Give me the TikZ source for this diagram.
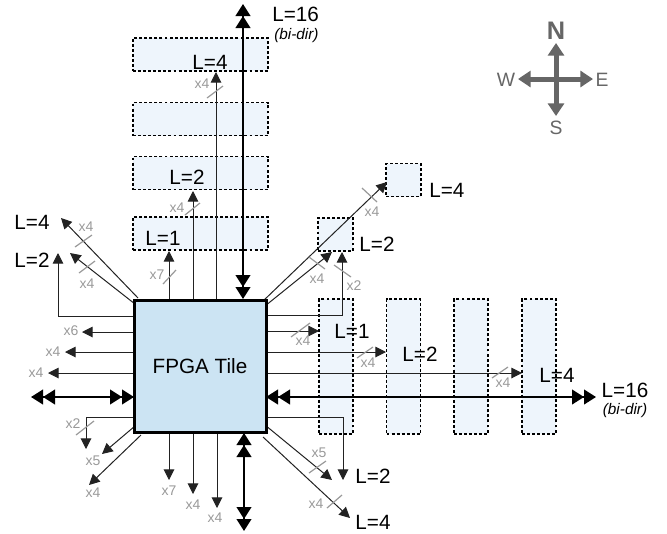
\documentclass[tikz,border=0pt]{standalone}
\usepackage{fontspec}
\setmainfont{Liberation Sans}
\usetikzlibrary{arrows.meta}
\definecolor{tilefill}{HTML}{CCE4F3}
\definecolor{boxfill}{HTML}{EEF5FC}
\definecolor{lbl}{HTML}{999999}
\definecolor{cmp}{HTML}{666666}
\definecolor{ln}{HTML}{222222}
\begin{document}
\begin{tikzpicture}[x=0.75pt,y=-0.75pt,
  tile/.style={draw=black,line width=2.25pt,fill=tilefill,minimum width=99pt,minimum height=99pt,inner sep=0pt,font=\fontsize{15.5}{18}\selectfont},
  dbox/.style={draw=black,line width=0.9pt,dash pattern=on 2.2pt off 1.6pt,fill=boxfill,inner sep=0pt},
  arr/.style={draw=ln,line width=0.75pt,-{Triangle[length=8pt,width=8pt]}},
  dtip/.tip={Triangle[length=9pt,width=11pt,sep=0pt]Triangle[length=9pt,width=11pt,sep=0pt]},
  bidir/.style={draw=black,line width=1.5pt,{dtip}-{dtip}},
  tk/.style={draw=lbl,line width=0.9pt},
  xl/.style={text=lbl,font=\fontsize{10.5}{12}\selectfont,inner sep=0pt},
  ll/.style={font=\fontsize{15.5}{18}\selectfont,inner sep=0pt},
  bd/.style={font=\itshape\fontsize{11.5}{13}\selectfont,inner sep=0pt},
  cmparr/.style={draw=cmp,line width=3.75pt,{Triangle[length=9.5pt,width=12pt]}-{Triangle[length=9.5pt,width=12pt]}},
  cmpl/.style={text=cmp,font=\fontsize{14.5}{16}\selectfont,inner sep=0pt}]
\useasboundingbox (0,0) rectangle (667,533);

% north boxes
\node[dbox,minimum width=101.25pt,minimum height=24.75pt] (nb4) at (200.5,54.5) {};
\node[dbox,minimum width=101.25pt,minimum height=24.75pt] (nb3) at (200.5,119) {};
\node[dbox,minimum width=101.25pt,minimum height=24.75pt] (nb2) at (200.5,173) {};
\node[dbox,minimum width=101.25pt,minimum height=24.75pt] (nb1) at (200.5,233.5) {};
% east boxes
\node[dbox,minimum width=25.5pt,minimum height=101.25pt] (eb1) at (336,366.5) {};
\node[dbox,minimum width=25.5pt,minimum height=101.25pt] (eb2) at (403.5,366.5) {};
\node[dbox,minimum width=25.5pt,minimum height=101.25pt] (eb3) at (471,366.5) {};
\node[dbox,minimum width=25.5pt,minimum height=101.25pt] (eb4) at (539,366.5) {};
% north-east boxes
\node[dbox,minimum width=26.25pt,minimum height=24.75pt] (ne1) at (335.5,234.5) {};
\node[dbox,minimum width=26.25pt,minimum height=24.75pt] (ne2) at (403.5,180) {};

% north connectors
\draw[arr] (169,299) -- (169,251);
\draw[arr] (193,299) -- (193,191);
\draw[arr] (216,299) -- (216,72);
\draw[bidir] (243,299) -- (243,4);
\draw[tk] (163,284) -- (176,270);
\draw[tk] (185,215) -- (200,203);
\draw[tk] (207,98) -- (223,86);

% west connectors
\draw[arr] (138,298) -- (61,218);
\draw[arr] (135,304) -- (70,253);
\draw[arr] (133,316) -- (58,316) -- (58,253);
\draw[arr] (133,332) -- (82,332);
\draw[arr] (133,352) -- (65,352);
\draw[arr] (133,373) -- (48,373);
\draw[bidir] (134,397) -- (31,397);
\draw[arr] (133,417) -- (86,417) -- (86,449);
\draw[arr] (135,426) -- (102,454);
\draw[arr] (141,435) -- (89,485);
\draw[tk] (75,247) -- (92,235);
\draw[tk] (79,273) -- (95,261);
\draw[tk] (76,435) -- (94,421);

% south connectors
\draw[arr] (169,433) -- (169,480);
\draw[arr] (193,433) -- (193,494);
\draw[arr] (217,433) -- (217,508);
\draw[bidir] (244,433) -- (244,531);

% north-east connectors
\draw[arr] (262,302) -- (387,182);
\draw[arr] (265,306) -- (332,252);
\draw[arr] (267,315) -- (342,315) -- (342,252);
\draw[tk] (362,188) -- (377,202);
\draw[tk] (309,257) -- (325,269);
\draw[tk] (334,265) -- (351,277);

% east connectors
\draw[arr] (267,331) -- (319,331);
\draw[arr] (267,352) -- (386,352);
\draw[arr] (267,373) -- (522,373);
\draw[bidir] (266,397) -- (596,397);
\draw[tk] (291,337) -- (310,323);
\draw[tk] (357,358) -- (373,347);
\draw[tk] (492,378) -- (508,367);

% south-east connectors
\draw[arr] (267,417) -- (343,417) -- (343,480);
\draw[arr] (265,425) -- (332,480);
\draw[arr] (263,437) -- (350,518);
\draw[tk] (309,473) -- (326,461);
\draw[tk] (327,508) -- (342,495);

% tile
\node[tile] (tile) at (200,366) {FPGA Tile};

% north labels
\node[ll] (tl4) at (210,62) {L=4};
\node[ll] (tl2) at (187,177) {L=2};
\node[ll] (tl1) at (163,238) {L=1};
\node[ll,anchor=west] (tl16) at (272,14) {L=16};
\node[bd,anchor=west] (tbd) at (274,36) {(bi-dir)};
\node[xl] (nx7) at (157,275) {x7};
\node[xl] (nx4a) at (177,208) {x4};
\node[xl] (nx4b) at (202,84) {x4};

% west labels
\node[ll] (wl4) at (32,222) {L=4};
\node[ll] (wl2) at (32,260) {L=2};
\node[xl] (wx4a) at (86,227) {x4};
\node[xl] (wx4b) at (87,284) {x4};
\node[xl] (wx6) at (71,331) {x6};
\node[xl] (wx4c) at (53,352) {x4};
\node[xl] (wx4d) at (36,373) {x4};
\node[xl] (wx2) at (73,424) {x2};
\node[xl] (wx5) at (93,461) {x5};
\node[xl] (wx4e) at (93,493) {x4};

% south labels
\node[xl] (sx7) at (169,491) {x7};
\node[xl] (sx4a) at (193,505) {x4};
\node[xl] (sx4b) at (215,518) {x4};

% north-east labels
\node[ll,anchor=west] (nel4) at (429,190) {L=4};
\node[ll] (nel2) at (377,244) {L=2};
\node[xl] (nex4a) at (372,212) {x4};
\node[xl] (nex4b) at (317,279) {x4};
\node[xl] (nex2) at (354,286) {x2};

% east labels
\node[ll] (el1) at (352,331) {L=1};
\node[ll] (el2) at (420,354) {L=2};
\node[ll] (el4) at (557,375) {L=4};
\node[ll] (el16) at (625,390) {L=16};
\node[bd] (ebd) at (625,411) {(bi-dir)};
\node[xl] (ex4a) at (303,341) {x4};
\node[xl] (ex4b) at (368,363) {x4};
\node[xl] (ex4c) at (503,383) {x4};

% south-east labels
\node[ll] (sel2) at (373,476) {L=2};
\node[ll] (sel4) at (373,522) {L=4};
\node[xl] (sex5) at (319,453) {x5};
\node[xl] (sex4) at (316,504) {x4};

% compass
\coordinate (cc) at (556,79);
\draw[cmparr] (556,116) -- (556,43);
\draw[cmparr] (518,79) -- (593,79);
\node[cmpl,font=\bfseries\fontsize{19}{22}\selectfont] (cn) at (556,31) {N};
\node[cmpl] (cs) at (556,128) {S};
\node[cmpl] (cw) at (506,80) {W};
\node[cmpl] (ce) at (602,80) {E};
\end{tikzpicture}
\end{document}
